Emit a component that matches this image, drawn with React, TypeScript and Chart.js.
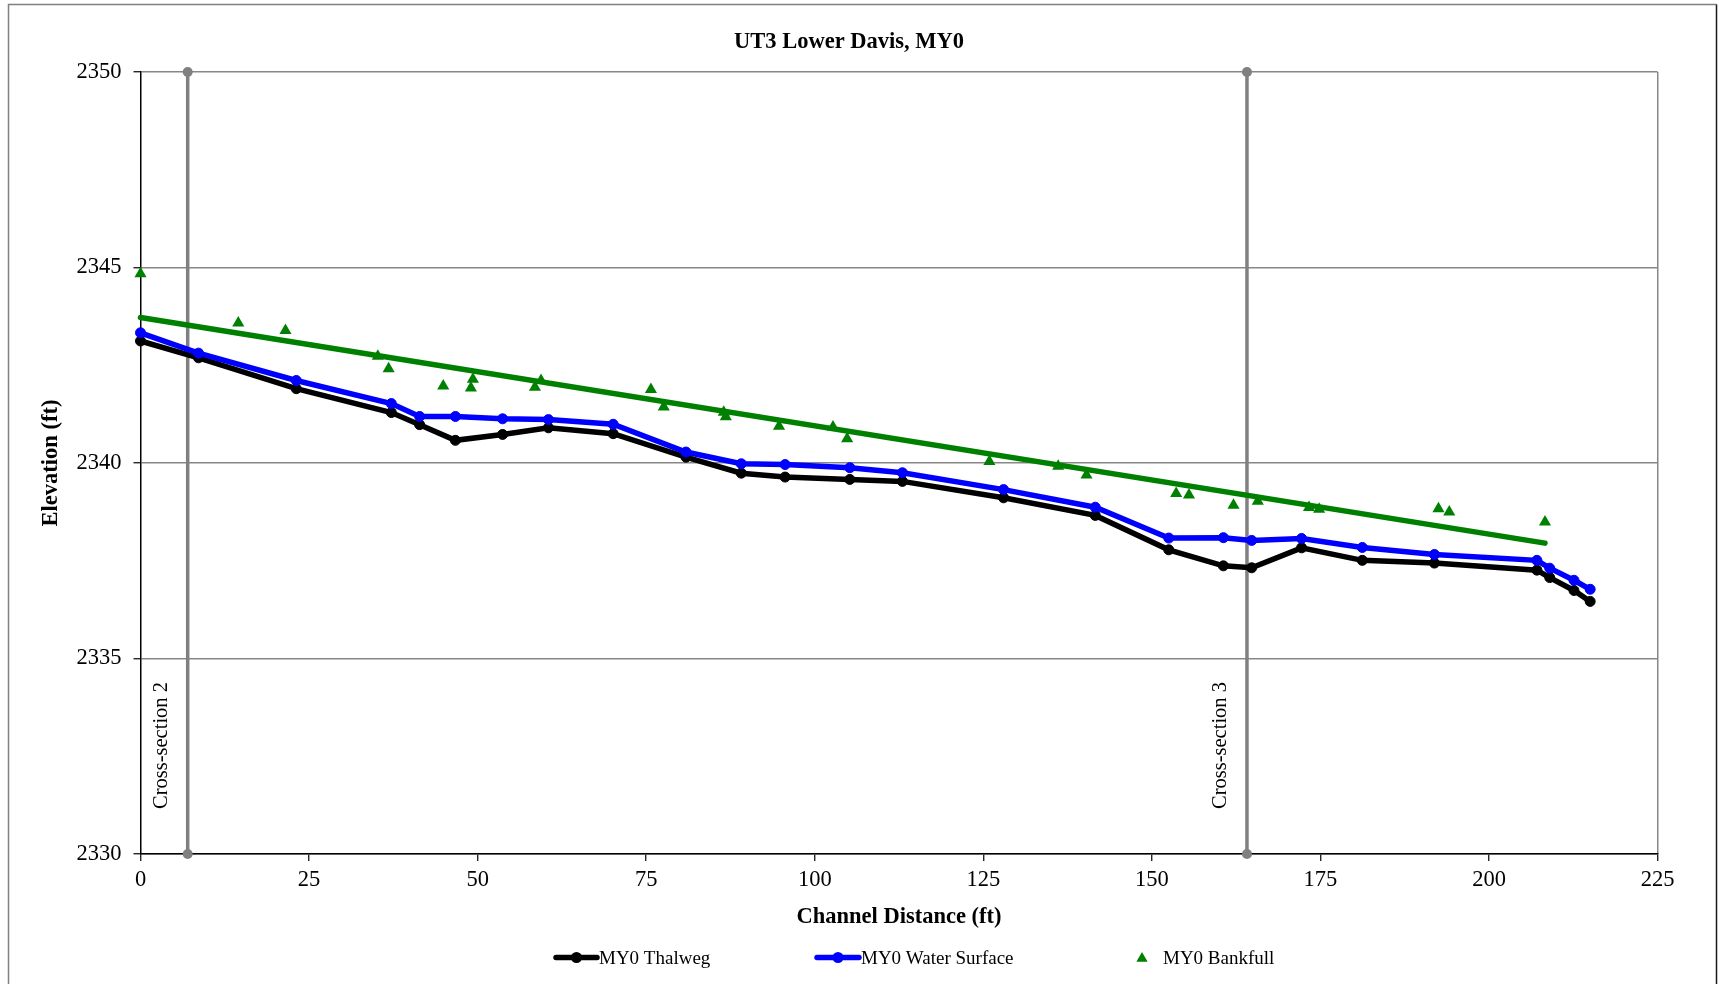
import React, { useEffect, useRef } from 'react';
import { Chart, registerables } from 'chart.js';

Chart.register(...registerables);

// ---- Chart text ----
const chartTitle = 'UT3 Lower Davis, MY0';
const xAxisTitle = 'Channel Distance (ft)';
const yAxisTitle = 'Elevation (ft)';
const legendLabels = ['MY0 Thalweg', 'MY0 Water Surface', 'MY0 Bankfull'];

// ---- Axis ranges ----
const stationMin = 0;
const stationMax = 225;
const stationStep = 25;
const elevationMin = 2330;
const elevationMax = 2350;
const elevationStep = 5;

// ---- Longitudinal profile (station in ft, elevation in ft) ----
const profileStation = [
  0, 8.6, 23.1, 37.2, 41.4, 46.7, 53.7, 60.5, 70.1, 80.9, 89.1, 95.6, 105.2,
  113.0, 128.0, 141.6, 152.5, 160.6, 164.8, 172.2, 181.2, 191.9, 207.1, 209.0,
  212.6, 215.0,
];
const thalwegElevation = [
  2343.12, 2342.69, 2341.9, 2341.29, 2340.98, 2340.58, 2340.73, 2340.9, 2340.75,
  2340.15, 2339.74, 2339.64, 2339.58, 2339.53, 2339.11, 2338.66, 2337.78,
  2337.37, 2337.32, 2337.83, 2337.51, 2337.44, 2337.26, 2337.07, 2336.74,
  2336.46,
];
const waterSurfaceElevation = [
  2343.33, 2342.81, 2342.11, 2341.52, 2341.19, 2341.19, 2341.13, 2341.11,
  2340.99, 2340.28, 2339.98, 2339.96, 2339.88, 2339.75, 2339.32, 2338.87,
  2338.08, 2338.09, 2338.02, 2338.07, 2337.84, 2337.66, 2337.51, 2337.31,
  2337.0, 2336.77,
];

// ---- Bankfull shots ----
const bankfullStation = [
  0, 14.5, 21.5, 35.2, 36.8, 44.9, 49.0, 49.3, 58.5, 59.4, 75.7, 77.6, 86.5,
  86.8, 94.7, 102.7, 104.8, 125.9, 136.1, 140.3, 153.6, 155.5, 162.1, 165.7,
  173.3, 174.8, 192.5, 194.1, 208.3,
];
const bankfullElevation = [
  2344.84, 2343.58, 2343.39, 2342.73, 2342.41, 2341.97, 2341.92, 2342.14,
  2341.94, 2342.11, 2341.88, 2341.43, 2341.3, 2341.18, 2340.94, 2340.92,
  2340.62, 2340.04, 2339.92, 2339.69, 2339.22, 2339.18, 2338.92, 2339.02,
  2338.86, 2338.82, 2338.83, 2338.75, 2338.49,
];

// ---- Linear bankfull trend ----
const bankfullTrendStation = [0, 208.3];
const bankfullTrendElevation = [2343.72, 2337.95];

// ---- Cross-section locations ----
const crossSectionStation = [7.0, 164.1];
const crossSectionLabel = ['Cross-section 2', 'Cross-section 3'];

// ---- Styling ----
const SERIF = "'Liberation Serif', 'Times New Roman', Times, serif";
const BLACK = '#000000';
const BLUE = '#0000ff';
const GREEN = '#008000';
const GRAY = '#808080';
const GRID = '#878787';

const pairs = (xs: number[], ys: number[]) => xs.map((x, i) => ({ x, y: ys[i] }));

const triangle = (ctx: CanvasRenderingContext2D, x: number, y: number, r: number) => {
  ctx.beginPath();
  ctx.moveTo(x, y - r);
  ctx.lineTo(x + r * 0.866, y + r * 0.5);
  ctx.lineTo(x - r * 0.866, y + r * 0.5);
  ctx.closePath();
  ctx.fill();
};

// Frame, title, legend and cross-section captions
const decorations = {
  id: 'decorations',
  beforeDraw(chart: any) {
    const { ctx, width, height } = chart;
    ctx.save();
    ctx.fillStyle = '#ffffff';
    ctx.fillRect(0, 0, width, height);
    ctx.lineWidth = 1.5;
    ctx.strokeStyle = GRAY;
    ctx.beginPath();
    ctx.moveTo(8.5, height + 2);
    ctx.lineTo(8.5, 4.5);
    ctx.lineTo(1716.5, 4.5);
    ctx.stroke();
    ctx.strokeStyle = '#1a1a1a';
    ctx.beginPath();
    ctx.moveTo(1716.5, 4.5);
    ctx.lineTo(1716.5, height + 2);
    ctx.stroke();
    ctx.restore();
  },
  afterDraw(chart: any) {
    const { ctx } = chart;
    const xs = chart.scales.x;
    const ys = chart.scales.y;
    ctx.save();

    // title
    ctx.fillStyle = BLACK;
    ctx.font = `bold 22.5px ${SERIF}`;
    ctx.textAlign = 'center';
    ctx.textBaseline = 'alphabetic';
    ctx.fillText(chartTitle, 849, 48);

    // cross-section captions, rotated to read upward
    ctx.font = `20.5px ${SERIF}`;
    ctx.textAlign = 'left';
    ctx.textBaseline = 'middle';
    crossSectionStation.forEach((st, i) => {
      const px = xs.getPixelForValue(st) - 26;
      const py = ys.getPixelForValue(elevationMin) - 45;
      ctx.save();
      ctx.translate(px, py);
      ctx.rotate(-Math.PI / 2);
      ctx.fillText(crossSectionLabel[i], 0, 0);
      ctx.restore();
    });

    // legend
    const ly = 957.5;
    const items = [
      { x0: 556, x1: 597, text: 599, color: BLACK },
      { x0: 817, x1: 859, text: 861, color: BLUE },
    ];
    items.forEach((it, i) => {
      ctx.strokeStyle = it.color;
      ctx.fillStyle = it.color;
      ctx.lineWidth = 5.5;
      ctx.lineCap = 'round';
      ctx.beginPath();
      ctx.moveTo(it.x0, ly);
      ctx.lineTo(it.x1, ly);
      ctx.stroke();
      ctx.beginPath();
      ctx.arc((it.x0 + it.x1) / 2, ly, 5.5, 0, Math.PI * 2);
      ctx.fill();
      ctx.fillStyle = BLACK;
      ctx.font = `19px ${SERIF}`;
      ctx.textAlign = 'left';
      ctx.textBaseline = 'alphabetic';
      ctx.fillText(legendLabels[i], it.text, 964);
    });
    ctx.fillStyle = GREEN;
    triangle(ctx, 1142, ly + 1, 6.5);
    ctx.fillStyle = BLACK;
    ctx.font = `19px ${SERIF}`;
    ctx.textAlign = 'left';
    ctx.textBaseline = 'alphabetic';
    ctx.fillText(legendLabels[2], 1163, 964);

    ctx.restore();
  },
};

const plainNumber = (v: any) => String(v);

export default function App() {
  const canvasRef = useRef<HTMLCanvasElement | null>(null);

  useEffect(() => {
    const canvas = canvasRef.current;
    if (!canvas) return;

    const crossSectionSets = crossSectionStation.map((st, i) => ({
      label: crossSectionLabel[i],
      data: [
        { x: st, y: elevationMin },
        { x: st, y: elevationMax },
      ],
      borderColor: GRAY,
      backgroundColor: GRAY,
      borderWidth: 3.5,
      pointRadius: 5,
      pointBorderWidth: 0,
      pointBackgroundColor: GRAY,
      showLine: true,
      clip: false as any,
    }));

    const chart = new Chart(canvas, {
      type: 'scatter',
      data: {
        datasets: [
          {
            label: legendLabels[1],
            data: pairs(profileStation, waterSurfaceElevation),
            borderColor: BLUE,
            backgroundColor: BLUE,
            borderWidth: 5.5,
            pointRadius: 5,
            pointBorderWidth: 1,
            pointBorderColor: BLUE,
            pointBackgroundColor: BLUE,
            showLine: true,
            clip: false as any,
          },
          {
            label: legendLabels[0],
            data: pairs(profileStation, thalwegElevation),
            borderColor: BLACK,
            backgroundColor: BLACK,
            borderWidth: 5.5,
            pointRadius: 5,
            pointBorderWidth: 1,
            pointBorderColor: BLACK,
            pointBackgroundColor: BLACK,
            showLine: true,
            clip: false as any,
          },
          {
            label: legendLabels[2],
            data: pairs(bankfullStation, bankfullElevation),
            pointStyle: 'triangle',
            pointRadius: 7,
            pointBorderWidth: 0,
            pointBackgroundColor: GREEN,
            pointBorderColor: GREEN,
            backgroundColor: GREEN,
            showLine: false,
            clip: false as any,
          },
          {
            label: 'Linear (MY0 Bankfull)',
            data: pairs(bankfullTrendStation, bankfullTrendElevation),
            borderColor: GREEN,
            backgroundColor: GREEN,
            borderWidth: 5.5,
            pointRadius: 0,
            showLine: true,
            borderCapStyle: 'round',
            clip: false as any,
          },
          ...crossSectionSets,
        ],
      },
      options: {
        animation: false,
        responsive: false,
        devicePixelRatio: 1,
        events: [],
        layout: { padding: { left: 0, right: 61.4, top: 72, bottom: 50 } },
        plugins: {
          legend: { display: false },
          title: { display: false },
          tooltip: { enabled: false },
        },
        scales: {
          x: {
            type: 'linear',
            min: stationMin,
            max: stationMax,
            ticks: {
              stepSize: stationStep,
              color: BLACK,
              padding: 5.5,
              font: { family: SERIF, size: 22.5 },
              callback: plainNumber,
            },
            grid: {
              display: true,
              drawOnChartArea: true,
              color: (c: any) =>
                c.tick && c.tick.value === stationMax ? GRID : 'rgba(0,0,0,0)',
              lineWidth: 1.5,
              drawTicks: true,
              tickLength: 7,
              tickColor: BLACK,
              tickWidth: 1.2,
            },
            border: { display: true, color: BLACK, width: 1.5 },
            title: {
              display: true,
              text: xAxisTitle,
              color: BLACK,
              font: { family: SERIF, size: 22.5, weight: 'bold' },
              padding: { top: 0, bottom: 3.2 },
            },
            afterFit: (s: any) => {
              s.height = 80;
            },
          },
          y: {
            type: 'linear',
            min: elevationMin,
            max: elevationMax,
            ticks: {
              stepSize: elevationStep,
              color: BLACK,
              padding: 12,
              font: { family: SERIF, size: 22.5 },
              callback: plainNumber,
            },
            grid: {
              color: GRID,
              lineWidth: 1.5,
              drawTicks: true,
              tickLength: 7,
              tickColor: BLACK,
              tickWidth: 1.2,
            },
            border: { display: true, color: BLACK, width: 1.5 },
            title: {
              display: true,
              text: yAxisTitle,
              color: BLACK,
              font: { family: SERIF, size: 22.5, weight: 'bold' },
              padding: { top: 38.1, bottom: 0 },
            },
            afterFit: (s: any) => {
              s.width = 140.5;
            },
          },
        },
      },
      plugins: [decorations],
    } as any);

    return () => {
      chart.destroy();
    };
  }, []);

  return (
    <div
      style={{
        position: 'fixed',
        left: 0,
        top: 0,
        width: 1719,
        height: 984,
        background: '#ffffff',
      }}
    >
      <canvas
        ref={canvasRef}
        width={1719}
        height={984}
        style={{ width: 1719, height: 984, display: 'block' }}
      />
    </div>
  );
}
